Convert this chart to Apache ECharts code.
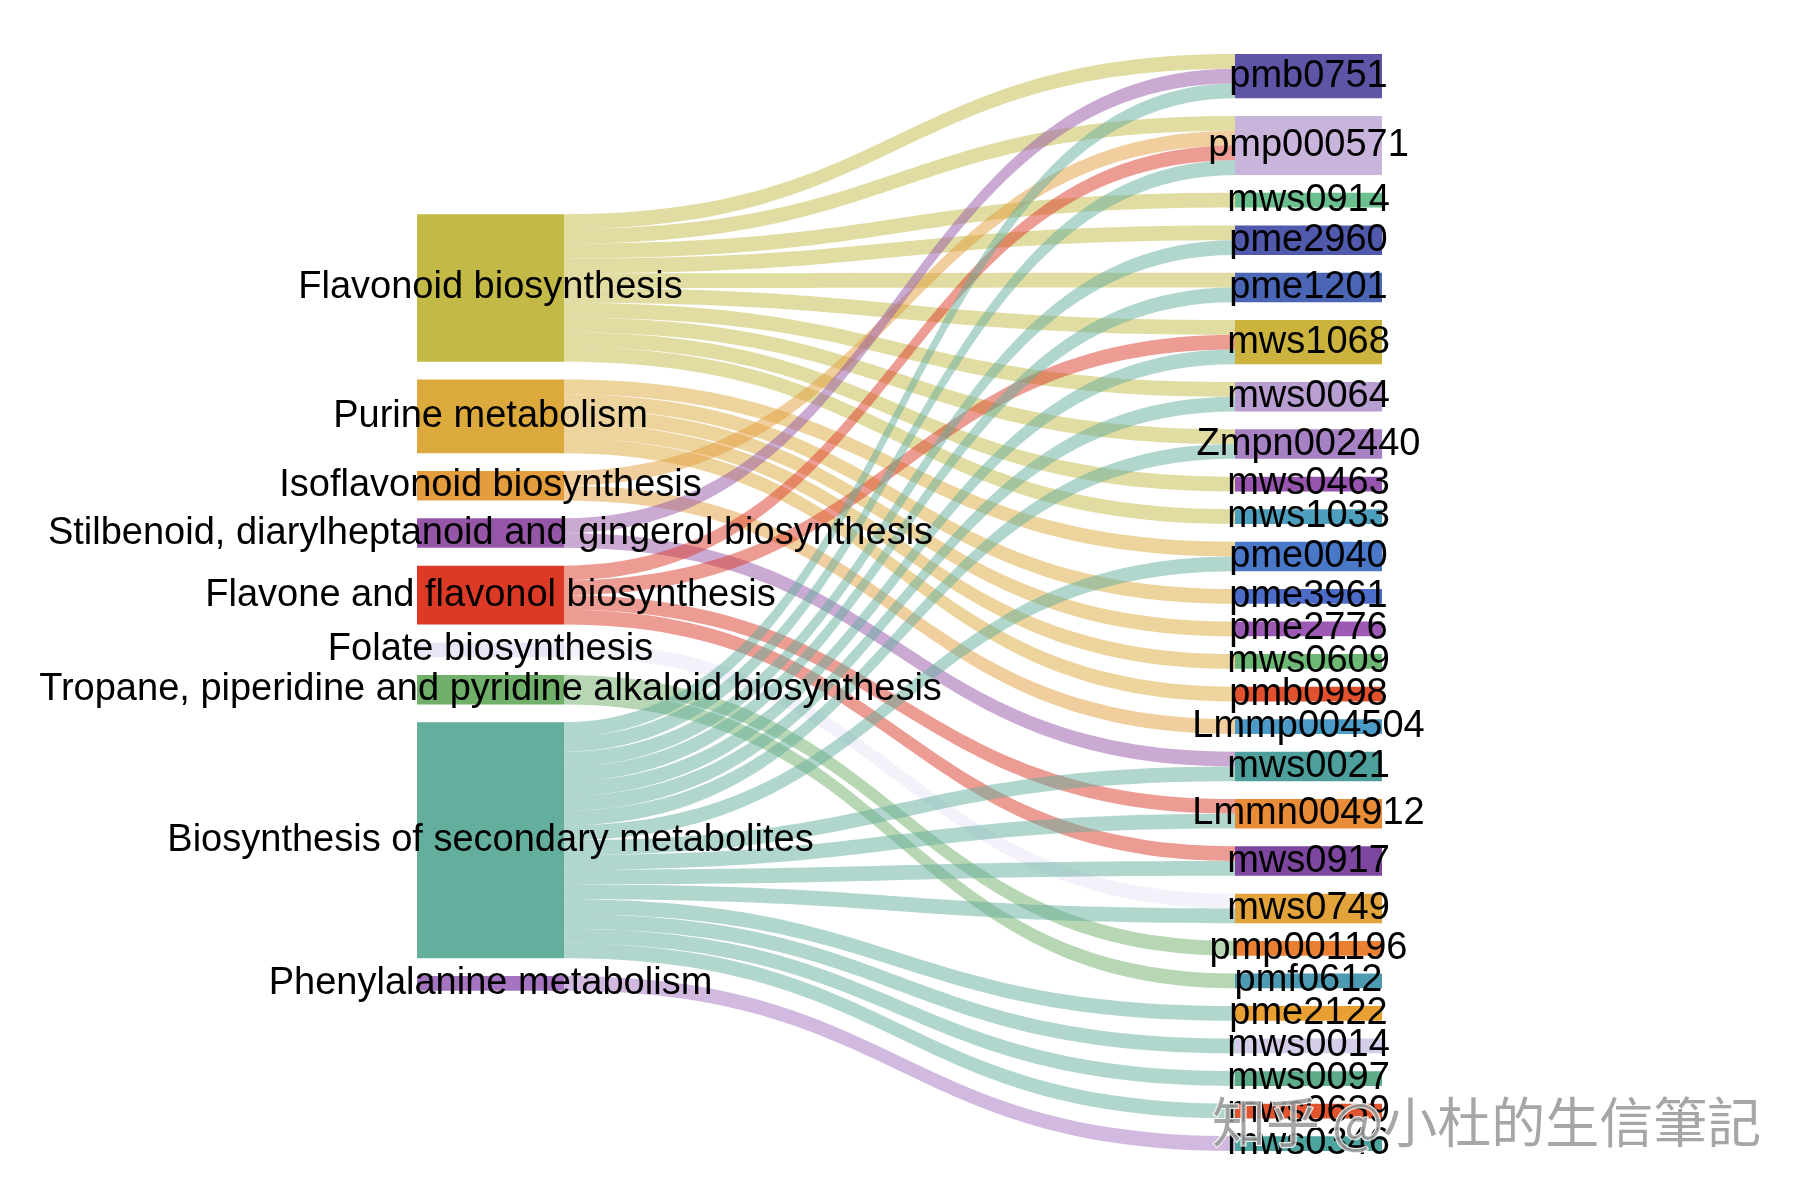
<!DOCTYPE html>
<html>
<head>
<meta charset="utf-8">
<title>Pathway - metabolite sankey</title>
<script src="https://cdn.jsdelivr.net/npm/echarts@6/dist/echarts.min.js"></script>
<style>
  html, body { margin: 0; padding: 0; background: #fff; }
  #chart { width: 1800px; height: 1200px; }
</style>
</head>
<body>
<div id="chart"></div>
<script>
// 左列：通路
const pathways = [
  'Flavonoid biosynthesis',
  'Purine metabolism',
  'Isoflavonoid biosynthesis',
  'Stilbenoid, diarylheptanoid and gingerol biosynthesis',
  'Flavone and flavonol biosynthesis',
  'Folate biosynthesis',
  'Tropane, piperidine and pyridine alkaloid biosynthesis',
  'Biosynthesis of secondary metabolites',
  'Phenylalanine metabolism'
]
const pathwayColors = [
  '#c3b946', '#dcaa3c', '#e49d3d', '#9656a8', '#dc3a27',
  '#e8e6f6', '#70b06a', '#63ae9d', '#a574c0'
]

// 右列：代谢物
const metabolites = [
  'pmb0751', 'pmp000571', 'mws0914', 'pme2960', 'pme1201', 'mws1068',
  'mws0064', 'Zmpn002440', 'mws0463', 'mws1033', 'pme0040', 'pme3961',
  'pme2776', 'mws0609', 'pmb0998', 'Lmmp004504', 'mws0021', 'Lmmn004912',
  'mws0917', 'mws0749', 'pmp001196', 'pmf0612', 'pme2122', 'mws0014',
  'mws0097', 'mws0639', 'mws0346'
]
const metaboliteColors = [
  '#5f55a6', '#c9b5dc', '#6cbf8e', '#5159ad', '#4a66b5', '#cbb33e',
  '#b99ed1', '#a681c4', '#9755b0', '#4d9fbd', '#4a78c8', '#4c6cc8',
  '#9d5ab5', '#6db874', '#e2512e', '#4c9ac8', '#4da09c', '#e98c37',
  '#7d47a0', '#e3a33b', '#ea8034', '#4c9bb3', '#e8a032', '#d5cdea',
  '#5eab8a', '#e05530', '#4ea5a0'
]

// 连线：通路序号 -> 代谢物
const linkSource = [
  0, 0, 0, 0, 0, 0, 0, 0, 0, 0,
  1, 1, 1, 1, 1,
  2, 2,
  3, 3,
  4, 4, 4, 4,
  5,
  6, 6,
  7, 7, 7, 7, 7, 7, 7, 7, 7, 7, 7, 7, 7, 7, 7, 7,
  8
]
const linkTarget = [
  'pmb0751', 'pmp000571', 'mws0914', 'pme2960', 'pme1201', 'mws1068', 'mws0064', 'Zmpn002440', 'mws0463', 'mws1033',
  'pme0040', 'pme3961', 'pme2776', 'mws0609', 'pmb0998',
  'pmp000571', 'Lmmp004504',
  'pmb0751', 'mws0021',
  'pmp000571', 'mws1068', 'Lmmn004912', 'mws0917',
  'mws0749',
  'pmp001196', 'pmf0612',
  'pmb0751', 'pmp000571', 'pme2960', 'pme1201', 'mws1068', 'mws0064', 'Zmpn002440', 'pme0040',
  'mws0021', 'Lmmn004912', 'mws0917', 'mws0749', 'pme2122', 'mws0014', 'mws0097', 'mws0639',
  'mws0346'
]
const linkValue = linkSource.map(() => 1)

// 布局参数
const LEFT = 417, TOP = 54, WIDTH = 965, HEIGHT = 1097
const NODE_W = 147, GAP = 17.8

// 左列居中：按 echarts 同样的比例算出起点
const sum = arr => arr.reduce((a, b) => a + b, 0)
const leftTotals = pathways.map((p, i) => sum(linkValue.filter((v, k) => linkSource[k] === i)))
const rightTotals = metabolites.map(m => sum(linkValue.filter((v, k) => linkTarget[k] === m)))
const ky = (HEIGHT - (metabolites.length - 1) * GAP) / sum(rightTotals)
const leftHeight = sum(leftTotals) * ky + (pathways.length - 1) * GAP
let cursor = (HEIGHT - leftHeight) / 2
const leftLocalY = leftTotals.map(v => {
  const y = cursor
  cursor += v * ky + GAP
  return y / HEIGHT
})

const nodes = pathways.map((name, i) => ({
  name,
  localY: leftLocalY[i],
  itemStyle: { color: pathwayColors[i] }
})).concat(metabolites.map((name, i) => ({
  name,
  itemStyle: { color: metaboliteColors[i] }
})))

const links = linkSource.map((s, k) => ({
  source: pathways[s],
  target: linkTarget[k],
  value: linkValue[k]
}))

const chart = echarts.init(document.getElementById('chart'))
chart.setOption({
  backgroundColor: '#fff',
  animation: false,
  series: [{
    type: 'sankey',
    left: LEFT,
    top: TOP,
    width: WIDTH,
    height: HEIGHT,
    nodeWidth: NODE_W,
    nodeGap: GAP,
    nodeAlign: 'justify',
    layoutIterations: 0,
    draggable: false,
    emphasis: { disabled: true },
    data: nodes,
    links: links,
    itemStyle: { borderWidth: 0 },
    lineStyle: { color: 'source', opacity: 0.5, curveness: 0.5 },
    label: {
      position: 'inside',
      color: '#000',
      fontSize: 38,
      fontFamily: '"Liberation Sans", Arial, sans-serif',
      textBorderWidth: 0,
      textBorderColor: 'transparent'
    }
  }],
  graphic: [{
    type: 'text',
    left: 1211,
    top: 1094,
    z: 100,
    style: {
      text: '知乎 @小杜的生信筆記',
      font: '54px "Noto Sans CJK TC"',
      fill: 'rgba(150,150,150,0.85)',
      stroke: 'rgba(255,255,255,0.9)',
      lineWidth: 2
    }
  }]
})
</script>
</body>
</html>
